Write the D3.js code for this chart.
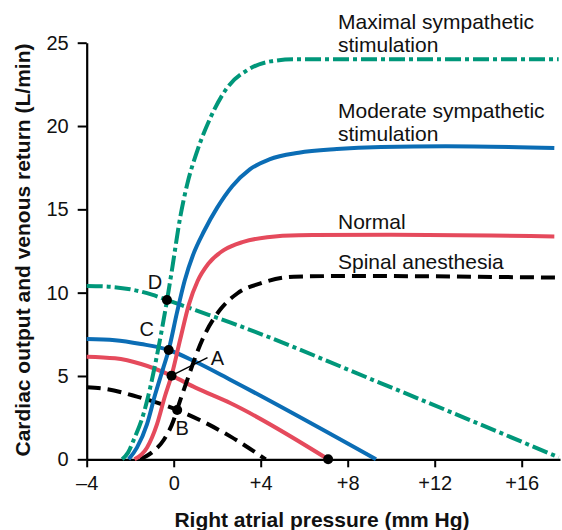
<!DOCTYPE html>
<html>
<head>
<meta charset="utf-8">
<script src="https://cdn.jsdelivr.net/npm/d3@7"></script>
<style>
  html, body { margin: 0; padding: 0; background: #fff; }
  svg { display: block; }
  text { font-family: "Liberation Sans", Arial, Helvetica, sans-serif; fill: #111; }
</style>
</head>
<body>
<svg id="chart" width="562" height="530"></svg>
<script>
// ---- data (x = right atrial pressure mm Hg, y = L/min) ----
const xTicks = [-4, 0, 4, 8, 12, 16];
const xTickLabels = ["\u20134", "0", "+4", "+8", "+12", "+16"];
const yTicks = [0, 5, 10, 15, 20, 25];

// cardiac output curves
const coMaximal = [[-2.37,0],[-2.1,0.4],[-1.84,1.16],[-1.38,2.76],[-1.07,4.36],[-0.7,6.7],[-0.3,9.6],[-0.1,11.2],[0.31,14.6],[0.62,16.5],[1.08,18.5],[1.69,20.5],[2.46,22.3],[3.38,23.35],[4.45,23.88],[5.52,24.0],[17.7,24.0]];
const coModerate = [[-2.07,0],[-1.69,0.7],[-1.23,2.1],[-0.85,3.9],[-0.5,5.4],[-0.23,6.56],[0.15,8.8],[0.5,10.7],[0.9,12.3],[1.4,13.7],[2.0,15.1],[2.7,16.4],[3.5,17.4],[4.4,18.0],[5.75,18.4],[7.5,18.62],[9.54,18.74],[12.5,18.78],[17.5,18.68]];
const coNormal = [[-1.8,0],[-1.23,0.7],[-0.77,2.1],[-0.4,3.8],[-0.1,5.02],[0.3,7.2],[0.7,9.3],[1.1,10.7],[1.6,11.75],[2.3,12.55],[3.2,13.05],[4.3,13.33],[5.75,13.45],[10,13.47],[17.5,13.37]];
const coSpinal = [[-1.55,0],[-0.92,0.5],[-0.46,1.16],[0,2.36],[0.16,3.0],[0.5,4.3],[1.38,7.36],[2.15,9.0],[2.92,9.95],[3.99,10.56],[5.52,10.96],[8,11.0],[17.7,10.9]];

// venous return curves
const vrMaximal = [[-4,10.4],[-3,10.36],[-2,10.2],[-1,9.88],[-0.31,9.56],[1,8.95],[2.62,8.2],[9.54,4.56],[17.7,0.12]];
const vrModerate = [[-4,7.22],[-2.7,7.15],[-1.5,6.92],[-0.23,6.56],[1,5.85],[2.62,4.76],[9.3,0]];
const vrNormal = [[-4,6.16],[-2.7,6.06],[-1.5,5.72],[-0.1,5.02],[1,4.3],[2.62,3.36],[7.1,0]];
const vrSpinal = [[-4,4.32],[-3.2,4.24],[-1.69,3.76],[0.16,2.96],[2.62,1.36],[4.23,0]];

// equilibrium points
const pointLabels = ["D", "C", "A", "B", ""];
const pointValues = [[-0.31,9.56],[-0.23,6.56],[-0.1,5.02],[0.16,2.96],[7.1,0]];

const seriesNames = ["Maximal sympathetic\nstimulation", "Moderate sympathetic\nstimulation", "Normal", "Spinal anesthesia"];

// ---- layout ----
const svg = d3.select("#chart");
const x = d3.scaleLinear().domain([-4, 16]).range([86.7, 521.7]);
const y = d3.scaleLinear().domain([0, 25]).range([459.3, 42.7]);
const xEnd = x.invert(560);

const colors = { green: "#00977a", blue: "#0b6db5", red: "#e54a5c", black: "#000" };
const line = d3.line().x(d => x(d[0])).y(d => y(d[1])).curve(d3.curveMonotoneX);

// axes
const gx = svg.append("g").attr("transform", `translate(0,${y(0)})`)
  .call(d3.axisBottom(d3.scaleLinear().domain([-4, xEnd]).range([x(-4), 560]))
    .tickValues(xTicks).tickFormat((d, i) => xTickLabels[i]).tickSize(8).tickSizeOuter(0).tickPadding(9));
const gy = svg.append("g").attr("transform", `translate(${x(-4)},0)`)
  .call(d3.axisLeft(y).tickValues(yTicks).tickSize(9).tickSizeOuter(0).tickPadding(9));
[gx, gy].forEach(g => {
  g.selectAll("path.domain").attr("stroke", "#000").attr("stroke-width", 2.2);
  g.selectAll(".tick line").attr("stroke", "#000").attr("stroke-width", 2);
  g.selectAll(".tick text").attr("font-size", 20).attr("fill", "#111")
    .attr("font-family", "'Liberation Sans', Arial, sans-serif");
});

// axis titles
svg.append("text").attr("x", 322).attr("y", 527).attr("text-anchor", "middle")
  .attr("font-size", 21).attr("font-weight", "bold").text("Right atrial pressure (mm Hg)");
svg.append("text").attr("transform", "translate(30,250) rotate(-90)").attr("text-anchor", "middle")
  .attr("font-size", 21).attr("font-weight", "bold").text("Cardiac output and venous return (L/min)");

// curves
const styles = [
  { data: vrMaximal, color: colors.green, dash: "16,4,4,4" },
  { data: vrModerate, color: colors.blue, dash: null },
  { data: vrNormal, color: colors.red, dash: null },
  { data: vrSpinal, color: colors.black, dash: "14,7" },
  { data: coSpinal, color: colors.black, dash: "14,7" },
  { data: coNormal, color: colors.red, dash: null },
  { data: coModerate, color: colors.blue, dash: null },
  { data: coMaximal, color: colors.green, dash: "16,4,4,4" },
];
styles.forEach(s => {
  svg.append("path").datum(s.data).attr("d", line)
    .attr("fill", "none").attr("stroke", s.color).attr("stroke-width", 4)
    .attr("stroke-dasharray", s.dash);
});

// leader line for A
const pA = pointValues[2];
svg.append("line").attr("x1", x(pA[0])).attr("y1", y(pA[1]))
  .attr("x2", x(pA[0]) + 36).attr("y2", y(pA[1]) - 18)
  .attr("stroke", "#000").attr("stroke-width", 1.4);

// points
svg.selectAll("circle.pt").data(pointValues).enter().append("circle")
  .attr("cx", d => x(d[0])).attr("cy", d => y(d[1])).attr("r", 5).attr("fill", "#000");

// point labels
const labelOffsets = [[-12, -18], [-22, -21], [46, -18], [5, 18]];
pointLabels.forEach((t, i) => {
  if (!t) return;
  svg.append("text").attr("x", x(pointValues[i][0]) + labelOffsets[i][0])
    .attr("y", y(pointValues[i][1]) + labelOffsets[i][1]).attr("dy", "0.36em")
    .attr("text-anchor", "middle").attr("font-size", 20).text(t);
});

// series labels
const labelBaselines = [29.3, 118.3, 229.3, 269.3];
seriesNames.forEach((name, i) => {
  const t = svg.append("text").attr("x", 338).attr("y", labelBaselines[i]).attr("font-size", 21);
  name.split("\n").forEach((ln, j) => {
    t.append("tspan").attr("x", 338).attr("dy", j === 0 ? 0 : 23).text(ln);
  });
});
</script>
</body>
</html>
